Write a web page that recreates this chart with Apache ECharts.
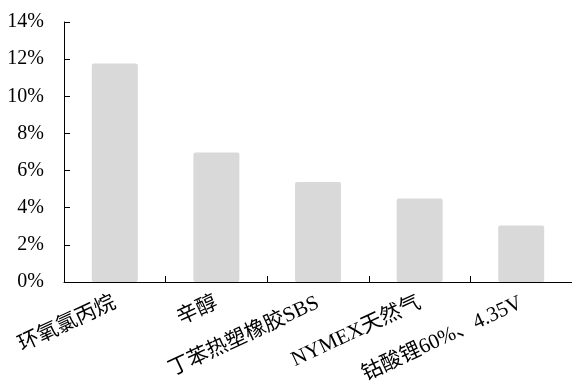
<!DOCTYPE html>
<html><head><meta charset="utf-8">
<script src="https://cdn.jsdelivr.net/npm/echarts@6/dist/echarts.min.js"></script>
<style>html,body{margin:0;padding:0;background:#fff}#c{width:572px;height:381px}</style>
</head><body><div id="c"></div>
<script>
var categories = ['环氧氯丙烷', '辛醇', '丁苯热塑橡胶SBS', 'NYMEX天然气', '钴酸锂60%、4.35V'];
var values = [11.76, 6.97, 5.39, 4.49, 3.04];
var yTicks = [0, 2, 4, 6, 8, 10, 12, 14];
var FONT = '"Liberation Serif", "Times New Roman", "Noto Sans CJK SC", serif';
var chart = echarts.init(document.getElementById('c'), null, {renderer: 'canvas'});
chart.setOption({
  animation: false,
  grid: {left: 64, right: 0, top: 22, bottom: 99, containLabel: false, outerBoundsMode: 'none'},
  xAxis: {
    type: 'category',
    data: categories,
    z: 5,
    axisLine: {lineStyle: {color: '#000', width: 1}},
    axisTick: {show: true, inside: true, length: 6, lineStyle: {color: '#000'}},
    axisLabel: {rotate: 25, margin: 20, interval: 0, color: '#000', fontSize: 21, fontFamily: FONT}
  },
  yAxis: {
    type: 'value',
    min: yTicks[0], max: yTicks[yTicks.length - 1], interval: 2,
    splitLine: {show: false},
    axisLine: {show: true, lineStyle: {color: '#000', width: 1}},
    axisTick: {show: true, inside: true, length: 6, lineStyle: {color: '#000'}},
    axisLabel: {margin: 20, color: '#000', fontSize: 20, fontFamily: FONT, formatter: function (v) { return v + '%'; }}
  },
  series: [{
    type: 'bar',
    data: values,
    barWidth: 46,
    itemStyle: {color: '#d9d9d9', borderRadius: 2}
  }]
});
</script></body></html>
